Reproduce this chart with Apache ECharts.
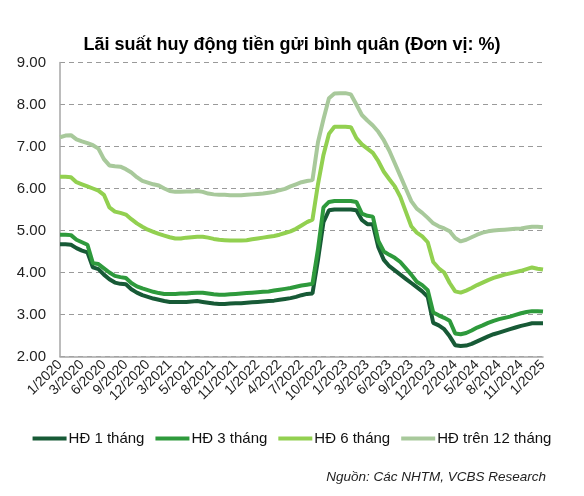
<!DOCTYPE html>
<html>
<head>
<meta charset="utf-8">
<script src="https://cdn.jsdelivr.net/npm/echarts@6/dist/echarts.min.js"></script>
<style>
    html, body { margin: 0; padding: 0; background: #fff; }
    #chart { width: 584px; height: 496px; }
</style>
</head>
<body>
<div id="chart"></div>
<script>
// nhãn trục X (mỗi nhãn cách 4 điểm dữ liệu)
var tickLabels = ['1/2020', '3/2020', '6/2020', '9/2020', '12/2020', '3/2021', '5/2021', '8/2021',
    '11/2021', '1/2022', '4/2022', '7/2022', '10/2022', '1/2023', '3/2023', '6/2023', '9/2023',
    '12/2023', '2/2024', '5/2024', '8/2024', '11/2024', '1/2025'];

var seriesNames = ['HĐ 1 tháng', 'HĐ 3 tháng', 'HĐ 6 tháng', 'HĐ trên 12 tháng'];

var rate1m = [4.67, 4.67, 4.66, 4.58, 4.52, 4.48, 4.12, 4.08, 3.95, 3.84,
    3.76, 3.73, 3.72, 3.60, 3.52, 3.46, 3.42, 3.38, 3.35, 3.32,
    3.30, 3.30, 3.30, 3.30, 3.31, 3.32, 3.30, 3.28, 3.26, 3.25,
    3.25, 3.26, 3.27, 3.27, 3.28, 3.29, 3.30, 3.31, 3.32, 3.33,
    3.35, 3.37, 3.39, 3.42, 3.46, 3.49, 3.50, 4.30, 5.20, 5.48,
    5.50, 5.50, 5.50, 5.50, 5.48, 5.25, 5.15, 5.15, 4.60, 4.30,
    4.15, 4.05, 3.95, 3.85, 3.75, 3.65, 3.55, 3.42, 2.80, 2.74,
    2.65, 2.48, 2.27, 2.25, 2.26, 2.30, 2.36, 2.42, 2.48, 2.53,
    2.57, 2.61, 2.65, 2.69, 2.73, 2.76, 2.79, 2.79, 2.79];

var rate3m = [4.90, 4.90, 4.89, 4.78, 4.72, 4.66, 4.22, 4.20, 4.10, 4.00,
    3.92, 3.89, 3.87, 3.75, 3.67, 3.62, 3.58, 3.54, 3.51, 3.49,
    3.49, 3.49, 3.50, 3.50, 3.51, 3.52, 3.52, 3.50, 3.48, 3.47,
    3.47, 3.48, 3.49, 3.50, 3.51, 3.52, 3.53, 3.54, 3.55, 3.57,
    3.59, 3.61, 3.63, 3.66, 3.69, 3.71, 3.73, 4.55, 5.55, 5.68,
    5.70, 5.70, 5.70, 5.70, 5.68, 5.40, 5.35, 5.33, 4.75, 4.50,
    4.42, 4.35, 4.25, 4.10, 3.95, 3.78, 3.70, 3.58, 3.05, 2.98,
    2.92, 2.85, 2.55, 2.53, 2.56, 2.62, 2.69, 2.74, 2.80, 2.85,
    2.89, 2.92, 2.95, 2.99, 3.03, 3.06, 3.08, 3.08, 3.07];

var rate6m = [6.28, 6.28, 6.27, 6.15, 6.10, 6.05, 6.00, 5.95, 5.85, 5.55,
    5.45, 5.42, 5.38, 5.27, 5.17, 5.09, 5.02, 4.97, 4.92, 4.88,
    4.84, 4.81, 4.81, 4.83, 4.84, 4.85, 4.85, 4.83, 4.80, 4.78,
    4.77, 4.76, 4.76, 4.76, 4.77, 4.79, 4.81, 4.83, 4.85, 4.87,
    4.90, 4.94, 4.98, 5.04, 5.12, 5.20, 5.26, 6.10, 6.80, 7.30,
    7.47, 7.47, 7.47, 7.46, 7.20, 7.05, 6.95, 6.85, 6.65, 6.40,
    6.22, 6.05, 5.80, 5.45, 5.10, 4.95, 4.86, 4.72, 4.25, 4.10,
    4.00, 3.75, 3.55, 3.52, 3.57, 3.63, 3.70, 3.76, 3.82, 3.87,
    3.91, 3.95, 3.98, 4.01, 4.04, 4.08, 4.12, 4.09, 4.07];

var rate12m = [7.22, 7.26, 7.27, 7.17, 7.12, 7.08, 7.03, 6.95, 6.70, 6.55,
    6.53, 6.52, 6.46, 6.38, 6.27, 6.18, 6.14, 6.10, 6.07, 6.00,
    5.94, 5.92, 5.92, 5.93, 5.93, 5.94, 5.92, 5.88, 5.86, 5.85,
    5.85, 5.84, 5.84, 5.84, 5.85, 5.86, 5.87, 5.88, 5.90, 5.92,
    5.96, 5.99, 6.05, 6.10, 6.15, 6.18, 6.20, 7.10, 7.65, 8.15,
    8.26, 8.27, 8.27, 8.24, 8.00, 7.75, 7.62, 7.50, 7.35, 7.15,
    6.90, 6.60, 6.30, 6.00, 5.70, 5.52, 5.42, 5.30, 5.17, 5.10,
    5.05, 4.98, 4.82, 4.74, 4.78, 4.84, 4.90, 4.95, 4.98, 5.00,
    5.01, 5.02, 5.03, 5.04, 5.05, 5.07, 5.09, 5.09, 5.08];

var seriesColors = ['#175a36', '#2e9a3c', '#92d050', '#a8c99b'];

var categories = rate1m.map(function (v, i) { return String(i); });
var allRates = [rate1m, rate3m, rate6m, rate12m];
var fontFamily = '"Liberation Sans", Arial, sans-serif';

var chart = echarts.init(document.getElementById('chart'));
chart.setOption({
    animation: false,
    title: {
        text: 'Lãi suất huy động tiền gửi bình quân (Đơn vị: %)',
        left: 'center',
        top: 31,
        textStyle: { fontSize: 18, fontWeight: 'bold', color: '#000', fontFamily: fontFamily }
    },
    grid: { left: 60, right: 41, top: 62.5, bottom: 139.5, containLabel: false },
    legend: {
        data: seriesNames,
        left: 'center',
        top: 426,
        icon: 'rect',
        itemWidth: 34,
        itemHeight: 4,
        itemGap: 11,
        textStyle: { fontSize: 15, color: '#111', fontFamily: fontFamily, padding: [0, 0, 0, -3] }
    },
    xAxis: {
        type: 'category',
        data: categories,
        boundaryGap: false,
        axisLine: { lineStyle: { color: '#a6a6a6', width: 1.5 } },
        axisTick: { show: false },
        axisLabel: {
            interval: 3,
            rotate: 45,
            margin: 6,
            fontSize: 14,
            color: '#222',
            fontFamily: fontFamily,
            formatter: function (value, index) {
                return tickLabels[index / 4] || '';
            }
        },
        splitLine: { show: false }
    },
    yAxis: {
        type: 'value',
        min: 2,
        max: 9,
        interval: 1,
        axisLine: { show: true, lineStyle: { color: '#a6a6a6', width: 1.5 } },
        axisTick: { show: false },
        axisLabel: {
            margin: 14,
            fontSize: 15,
            color: '#222',
            fontFamily: fontFamily,
            formatter: function (v) { return v.toFixed(2); }
        },
        splitLine: { lineStyle: { color: '#9a9a9a', type: [5, 4], width: 1 } }
    },
    series: allRates.map(function (rates, k) {
        return {
            name: seriesNames[k],
            type: 'line',
            data: rates,
            showSymbol: false,
            color: seriesColors[k],
            lineStyle: { width: 4, color: seriesColors[k] }
        };
    }),
    graphic: [{
        type: 'text',
        right: 38,
        top: 470,
        style: {
            text: 'Nguồn: Các NHTM, VCBS Research',
            font: 'italic 13.5px ' + fontFamily,
            fill: '#222'
        }
    }]
});
</script>
</body>
</html>
